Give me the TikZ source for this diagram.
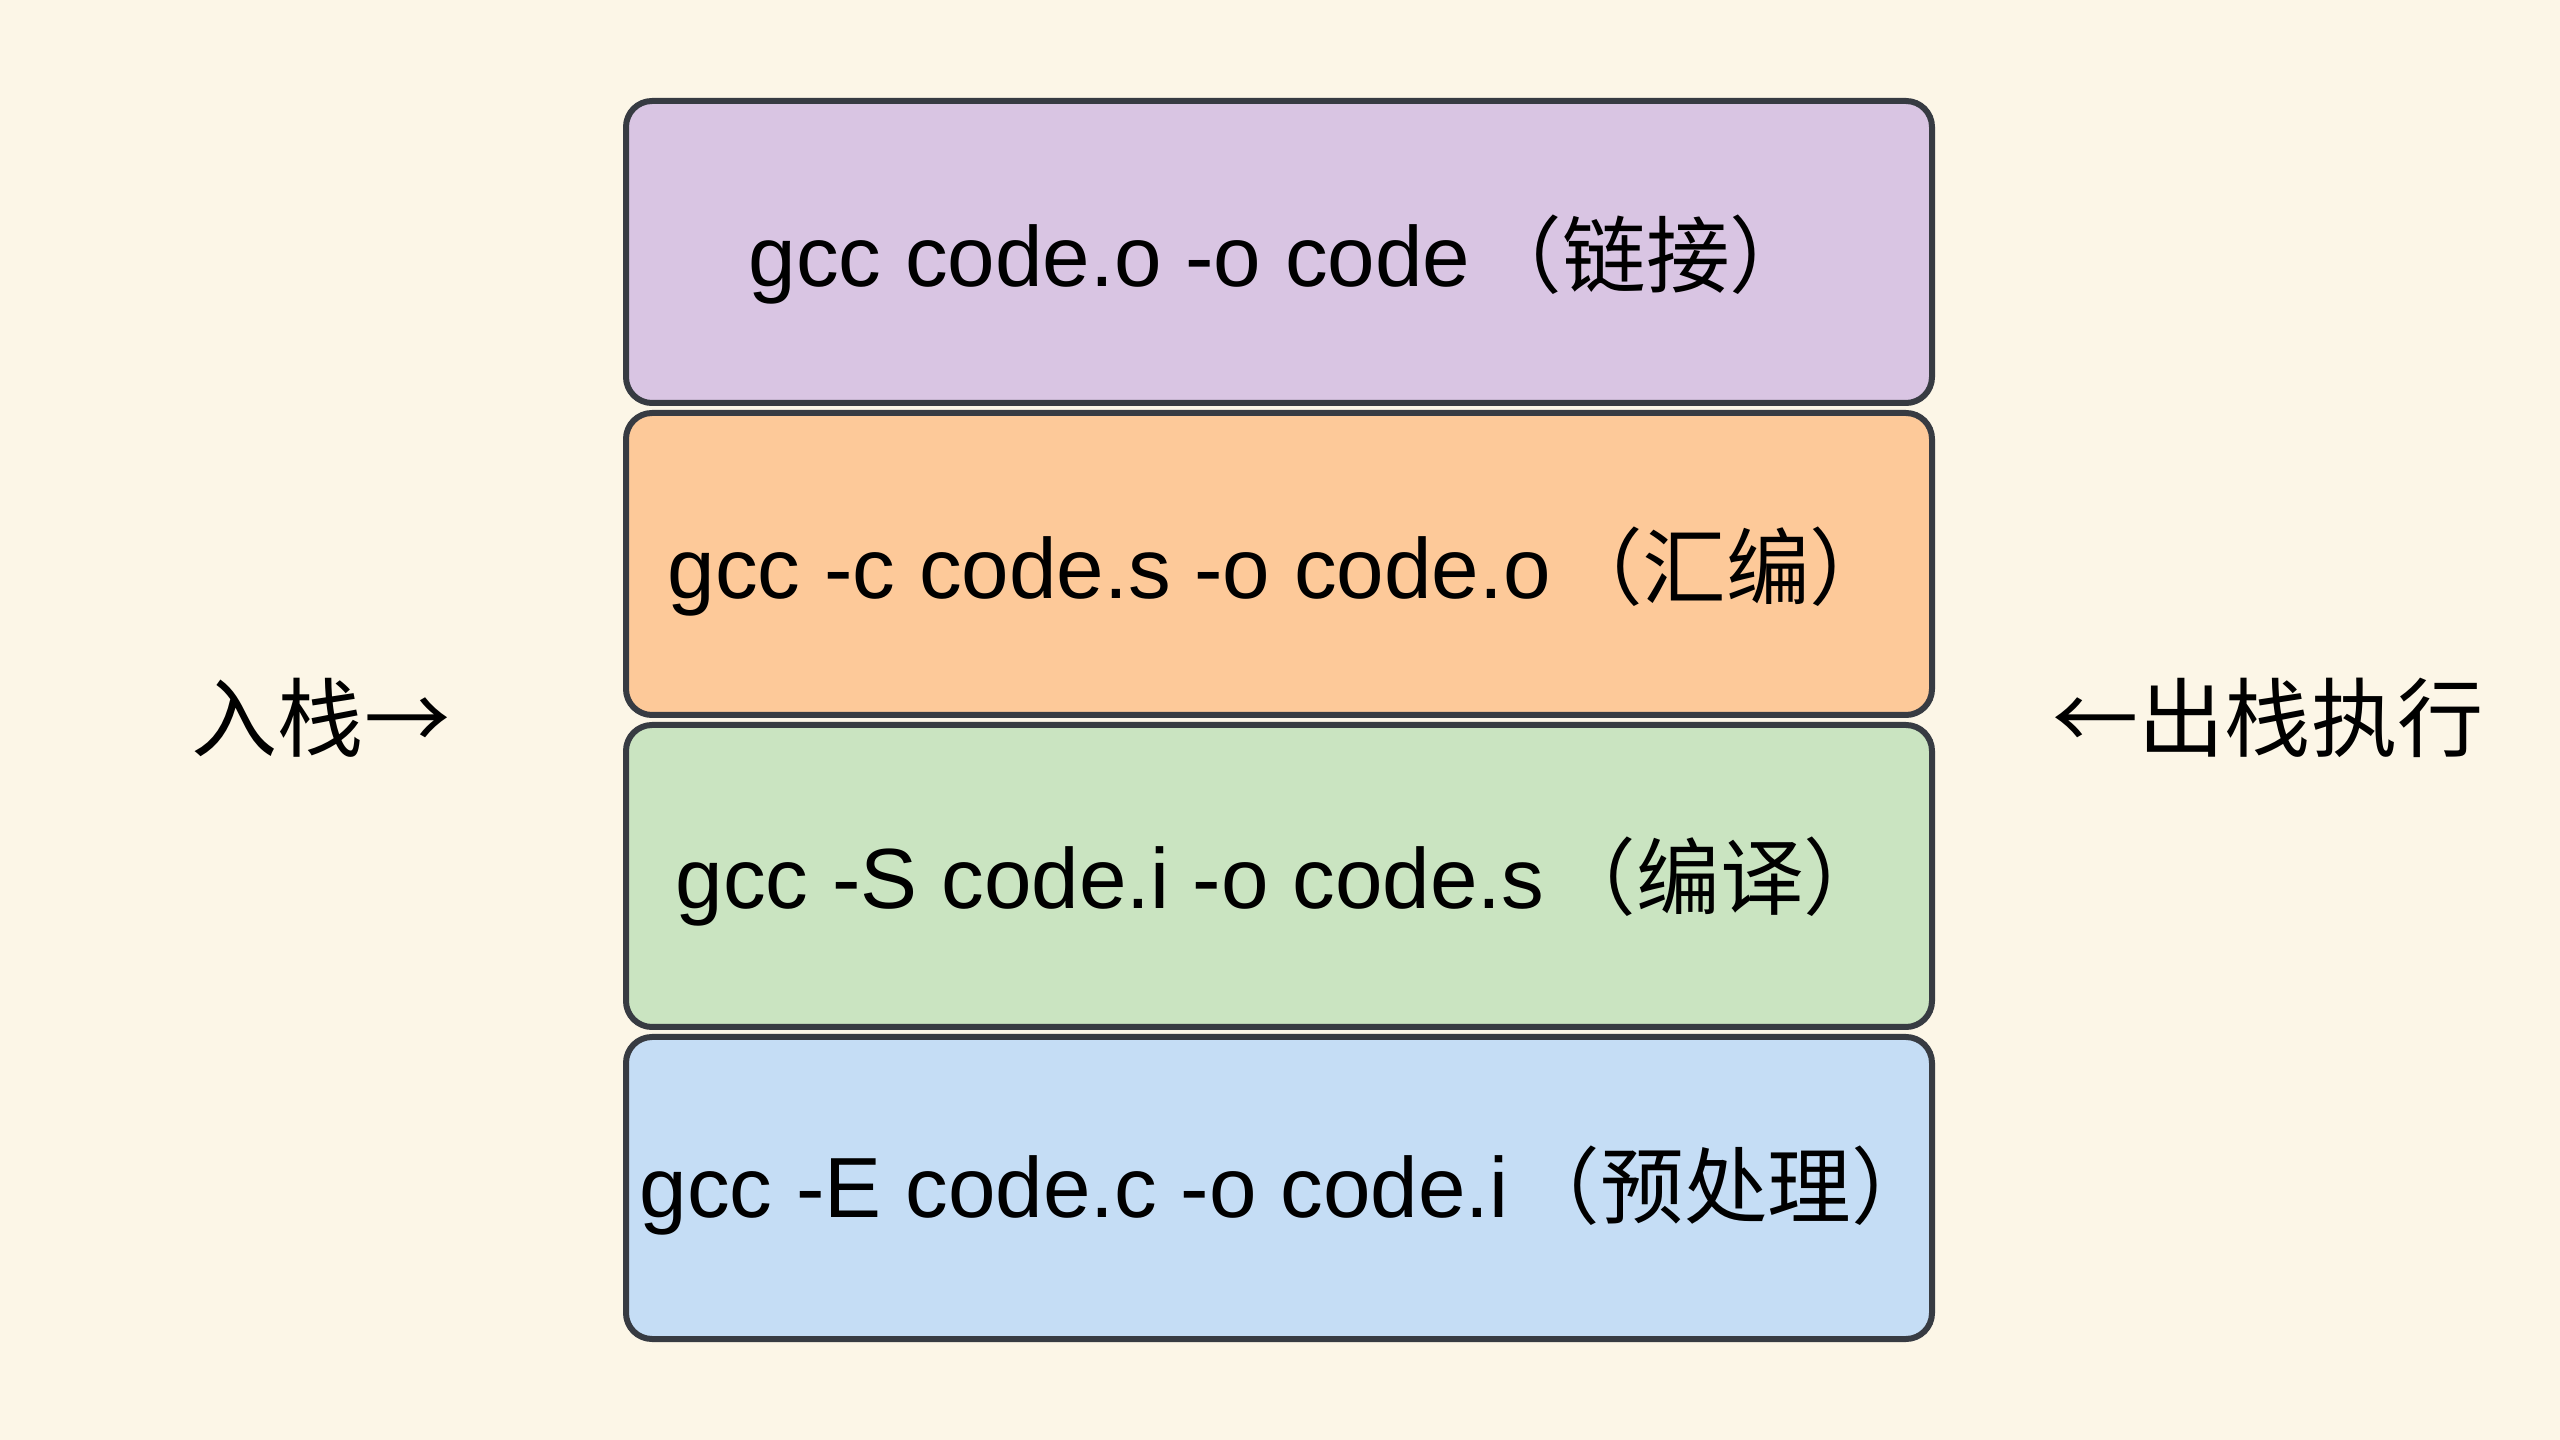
\documentclass[tikz,border=0pt]{standalone}
\usepackage{fontspec}
\setmainfont{Liberation Sans}
\newfontfamily\cjk{Noto Sans CJK SC}
\definecolor{bgc}{RGB}{252,246,231}
\definecolor{purplec}{RGB}{217,197,227}
\definecolor{orangec}{RGB}{253,201,153}
\definecolor{greenc}{RGB}{202,228,193}
\definecolor{bluec}{RGB}{197,221,245}
\definecolor{edgec}{RGB}{55,59,66}
\tikzset{
  stackbox/.style={draw=edgec, line width=0.6mm, rounded corners=2.6mm},
  cmd/.style={anchor=base west, inner sep=0pt, font=\fontsize{24.3}{28}\selectfont, text=black},
  zhpart/.style={anchor=base west, inner sep=0pt, xshift=0.7mm, font=\cjk\fontsize{23.8}{28}\selectfont, text=black},
  side/.style={anchor=center, inner sep=0pt, font=\cjk\fontsize{24.5}{28}\selectfont, text=black}
}
\begin{document}
\begin{tikzpicture}[x=0.1mm,y=-0.1mm]
  \fill[bgc] (0,0) rectangle (2560,1440);
  \useasboundingbox (0,0) rectangle (2560,1440);
  % stack boxes
  \draw[stackbox, fill=purplec] (626,101) rectangle (1932,403);
  \draw[stackbox, fill=orangec] (626,413) rectangle (1932,715);
  \draw[stackbox, fill=greenc]  (626,725) rectangle (1932,1027);
  \draw[stackbox, fill=bluec]   (626,1037) rectangle (1932,1339);
  % texts
  \node[cmd] (l1) at (748,287) {gcc code.o -o code};
  \node[zhpart] (z1) at (l1.base east) {（链接）};
  \node[cmd] (l2) at (667,599) {gcc -c code.s -o code.o};
  \node[zhpart] (z2) at (l2.base east) {（汇编）};
  \node[cmd] (l3) at (675,909) {gcc -S code.i -o code.s};
  \node[zhpart] (z3) at (l3.base east) {（编译）};
  \node[cmd] (l4) at (639,1217) {gcc -E code.c -o code.i};
  \node[zhpart] (z4) at (l4.base east) {（预处理）};
  % side labels
  \node[side] (push) at (321,718) {入栈→};
  \node[side] (pop)  at (2268,718) {←出栈执行};
\end{tikzpicture}
\end{document}
